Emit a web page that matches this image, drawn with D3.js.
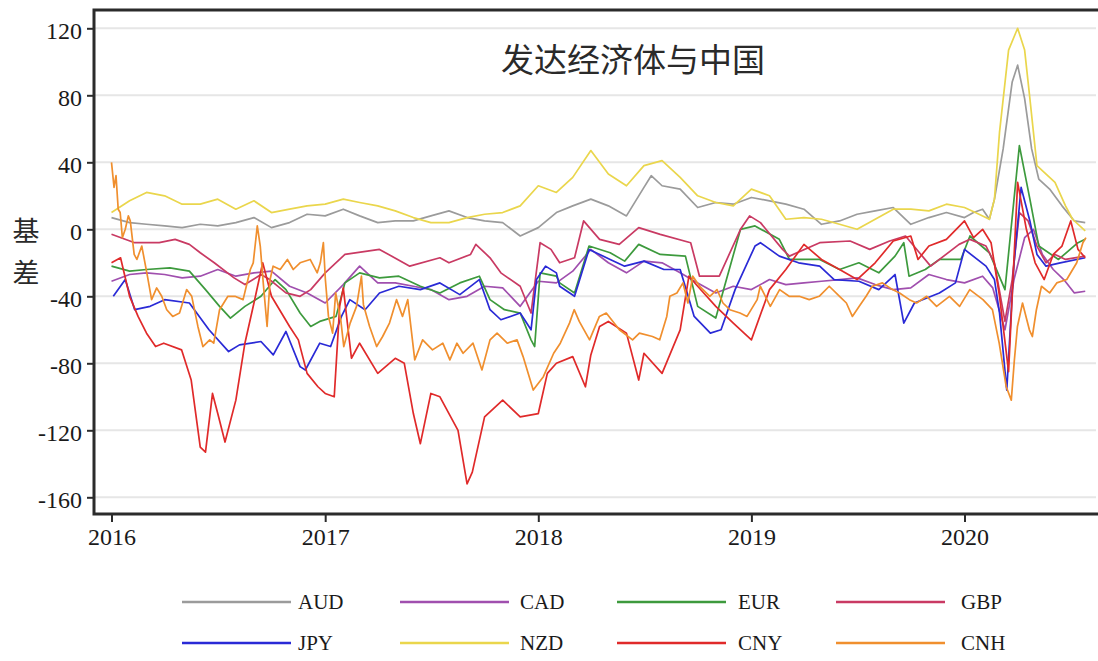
<!DOCTYPE html>
<html>
<head>
<meta charset="utf-8">
<script src="https://cdn.jsdelivr.net/npm/d3@7"></script>
<style>
  body { margin: 0; background: #fff; }
  svg { display: block; }
</style>
</head>
<body>
<svg></svg>
<script>
// points are [months since Jan 2016, basis]
const currencies = ['AUD', 'CAD', 'EUR', 'GBP', 'JPY', 'NZD', 'CNY', 'CNH'];
const colors = ['#9b9b9b', '#a04fae', '#3d9a3d', '#c93a63', '#2a2ad6', '#ead64c', '#e02a2a', '#f08f2e'];
const years = [2016, 2017, 2018, 2019, 2020];
const yTicks = [120, 80, 40, 0, -40, -80, -120, -160];

const aud = [[0,7],[1,4],[2,3],[3,2],[4,1],[5,3],[6,2],[7,4],[8,7],[9,1],[10,4],[11,9],[12,8],[13,12],[14,8],[15,4],[16,5],[17,5],[18,8],[19,11],[20,7],[21,5],[22,4],[23,-4],[24,1],[25,10],[26,14],[27,18],[28,14],[29,8],[30,25],[30.4,32],[31,26],[32,24],[33,13],[34,16],[35,15],[36,19],[37,17],[38,15],[39,12],[40,3],[41,5],[42,9],[43,11],[44,13],[45,3],[46,7],[47,10],[48,7],[48.5,10],[49,12],[49.4,6],[49.7,18],[50.2,48],[50.7,88],[51,98],[51.4,78],[51.8,48],[52.2,30],[52.8,24],[53.5,14],[54.2,5],[54.8,4]];
const cad = [[0,-31],[1,-27],[2,-26],[3,-27],[4,-29],[5,-28],[6,-24],[7,-28],[8,-26],[9,-25],[10,-34],[11,-38],[12,-44],[13,-33],[14,-22],[15,-32],[16,-32],[17,-34],[18,-36],[19,-42],[20,-40],[21,-34],[22,-35],[23,-46],[24,-31],[25,-32],[26,-25],[27,-12],[28,-20],[29,-26],[30,-19],[31,-20],[32,-26],[33,-32],[34,-38],[35,-34],[36,-36],[37,-30],[38,-33],[39,-32],[40,-31],[41,-30],[42,-29],[43,-33],[44,-36],[45,-35],[46,-27],[47,-30],[48,-32],[49,-28],[49.6,-35],[50.3,-60],[50.8,-30],[51.4,-5],[51.9,0],[52.4,-15],[53,-24],[53.6,-30],[54.2,-38],[54.8,-37]];
const eur = [[0,-22],[1,-25],[2,-24],[3.3,-23],[4.4,-25],[5.3,-36],[6.1,-46],[6.7,-53],[7.5,-46],[8.4,-40],[9.2,-30],[9.8,-36],[10.6,-50],[11.2,-58],[11.7,-55],[12.6,-52],[13.1,-32],[14,-26],[15.1,-29],[16.2,-28],[17.4,-34],[18.5,-38],[19.6,-32],[20.7,-28],[21.3,-42],[22.1,-48],[23,-50],[23.6,-66],[23.8,-70],[24.1,-26],[25,-28],[25.2,-32],[26.1,-38],[26.9,-10],[28.1,-14],[28.9,-19],[29.7,-9],[30.9,-15],[32.3,-16],[33,-46],[34,-53],[34.5,-34],[35.4,0],[36.2,2],[37.6,-6],[38.2,-18],[39.9,-18],[41,-24],[42.1,-20],[43.2,-26],[44.1,-16],[44.6,-8],[44.9,-28],[45.8,-24],[46.6,-18],[47.8,-18],[48.3,-4],[49.4,-14],[50.3,-36],[51.1,50],[51.7,18],[52.2,-10],[53.3,-18],[54.4,-8],[54.8,-6]];
const gbp = [[0,-3],[1.3,-8],[2.7,-8],[3.6,-6],[4.4,-9],[5,-14],[5.8,-20],[6.9,-29],[7.5,-33],[8.4,-27],[8.9,-30],[9.8,-38],[10.6,-40],[11.2,-36],[12,-26],[13.1,-15],[15.1,-12],[16.8,-22],[18.5,-17],[19,-20],[20.2,-15],[20.5,-9],[21.3,-17],[21.9,-26],[23,-34],[23.6,-50],[24.1,-8],[24.7,-12],[25.2,-20],[26.1,-17],[26.6,5],[27.5,-6],[28.6,-9],[29.7,1],[30.9,-3],[32.6,-8],[33.1,-28],[34.2,-28],[35.4,0],[35.9,8],[36.5,4],[37.8,-12],[38.2,-16],[39.9,-8],[41.6,-7],[42.7,-12],[43.8,-7],[44.7,-4],[46.1,-22],[47.7,-9],[48.3,-6],[49.2,-10],[49.7,-20],[50.3,-55],[50.7,-30],[51.1,10],[51.6,5],[52.1,-10],[52.6,-20],[53.1,-15],[53.7,-18],[54.8,-16]];
const jpy = [[0.1,-40],[0.76,-30],[1.3,-48],[2.2,-46],[3,-42],[4.4,-44],[5.5,-60],[6.6,-73],[7.2,-69],[8.4,-67],[9.1,-75],[9.8,-61],[10.6,-82],[10.9,-84],[11.7,-68],[12.3,-70],[12.9,-52],[13.4,-42],[14.3,-48],[15.1,-38],[16.2,-34],[17.4,-36],[18.5,-32],[19.6,-39],[20.7,-30],[21.3,-48],[21.9,-54],[23,-50],[23.6,-60],[23.9,-30],[24.4,-22],[25,-26],[25.2,-34],[26.1,-40],[26.9,-12],[28.1,-18],[28.9,-22],[30,-19],[31.1,-24],[32,-24],[32.8,-52],[33.7,-62],[34.3,-60],[35.1,-36],[36.2,-10],[36.5,-8],[37.6,-16],[38.7,-20],[39.9,-22],[40.7,-30],[42.1,-31],[43.2,-36],[44.1,-27],[44.6,-56],[45.2,-44],[46.6,-38],[47.5,-32],[48,-12],[49.2,-22],[49.7,-30],[50,-50],[50.4,-96],[50.8,-20],[51.2,25],[51.7,5],[52.1,-15],[52.6,-22],[53.4,-20],[54.8,-17]];
const nzd = [[0,10],[1,17],[2,22],[3,20],[4,15],[5,15],[6,18],[7,12],[8,17],[9,10],[10,12],[11,14],[12,15],[13,18],[14,16],[15,14],[16,11],[17,7],[18,4],[19,4],[20,7],[21,9],[22,10],[23,14],[24,26],[25,22],[26,31],[27,47],[28,33],[29,26],[30,38],[31,41],[32,31],[33,20],[34,16],[35,14],[36,24],[37,20],[38,6],[39,7],[40,6],[41,3],[42,0],[43,6],[44,12],[45,12],[46,11],[47,15],[48,13],[48.6,10],[49.4,6],[49.7,18],[50,58],[50.5,107],[51,120],[51.4,107],[51.7,78],[52.1,38],[52.5,34],[53.1,28],[53.7,14],[54.1,6],[54.8,-1]];
const cny = [[0,-20],[0.5,-17],[1,-40],[1.5,-52],[2,-62],[2.5,-70],[2.95,-68],[3.97,-72],[4.5,-90],[5,-130],[5.3,-133],[5.7,-98],[6,-110],[6.4,-127],[7,-102],[7.5,-68],[8,-44],[8.5,-20],[9,-40],[10,-58],[10.5,-66],[11,-86],[11.6,-94],[12,-98],[12.5,-100],[12.8,-46],[13,-35],[13.5,-77],[14,-68],[15,-86],[16,-77],[16.5,-80],[17,-110],[17.4,-128],[18,-98],[18.5,-100],[19,-110],[19.5,-120],[20,-152],[20.3,-145],[21,-112],[22,-102],[23,-112],[24,-110],[24.5,-86],[25,-80],[26,-76],[26.7,-94],[27,-75],[27.5,-58],[28,-55],[29,-62],[29.7,-90],[30,-74],[31,-86],[32,-60],[32.5,-28],[33,-34],[34,-46],[35,-56],[36,-66],[37,-36],[38,-24],[39,-9],[40,-18],[41,-24],[42,-30],[43,-20],[44,-7],[45,-4],[45.4,-18],[46,-10],[47,-6],[48,5],[48.5,-5],[49,0],[49.5,-8],[50,-40],[50.5,-85],[51,28],[51.5,0],[52,-20],[52.5,-30],[53,-15],[53.5,-10],[54,5],[54.4,-12],[54.8,-17]];
const cnh = [[0,40],[0.14,25],[0.25,32],[0.37,12],[0.48,10],[0.6,-5],[0.76,0],[0.93,8],[1.04,5],[1.27,-15],[1.43,-18],[1.72,-10],[2.05,-28],[2.28,-42],[2.56,-35],[2.84,-40],[3.12,-48],[3.46,-52],[3.85,-50],[4.25,-36],[4.53,-40],[4.87,-58],[5.15,-70],[5.54,-66],[5.77,-68],[6.1,-48],[6.56,-40],[6.95,-40],[7.4,-42],[7.8,-24],[7.96,-20],[8.19,2],[8.36,-10],[8.53,-32],[8.75,-58],[8.92,-30],[9.09,-22],[9.48,-24],[9.88,-18],[10.21,-24],[10.6,-20],[11.17,-18],[11.56,-26],[11.73,-20],[11.9,-8],[12.01,-30],[12.18,-52],[12.41,-62],[12.58,-38],[12.86,-54],[13.03,-70],[13.42,-56],[13.81,-46],[14.1,-28],[14.21,-45],[14.55,-58],[14.94,-70],[15.28,-64],[15.67,-56],[16.07,-42],[16.4,-52],[16.69,-42],[17.08,-78],[17.53,-66],[18.09,-72],[18.66,-68],[19.05,-78],[19.44,-68],[19.78,-74],[20.34,-68],[20.85,-84],[21.3,-66],[21.69,-62],[22.26,-68],[22.82,-66],[23.16,-76],[23.72,-96],[24.28,-88],[24.85,-74],[25.24,-68],[25.8,-56],[26.08,-48],[26.36,-55],[26.93,-66],[27.49,-52],[27.88,-50],[28.61,-60],[29.35,-66],[29.74,-62],[30.47,-64],[30.87,-66],[31.26,-52],[31.43,-40],[31.82,-38],[32.16,-32],[32.44,-44],[32.72,-28],[33.11,-34],[33.67,-40],[34.07,-36],[34.41,-44],[34.8,-48],[35.37,-50],[35.76,-52],[36.32,-42],[36.49,-34],[37.05,-46],[37.62,-36],[38.18,-40],[38.74,-40],[39.3,-42],[39.87,-40],[40.43,-34],[41,-40],[41.39,-44],[41.73,-52],[42.12,-46],[42.5,-40],[42.84,-34],[43.4,-32],[43.96,-36],[44.36,-38],[44.92,-42],[45.32,-44],[45.88,-40],[46.44,-46],[47.17,-40],[47.73,-46],[48.29,-36],[49.02,-42],[49.58,-48],[49.98,-68],[50.37,-94],[50.65,-102],[50.82,-78],[50.99,-58],[51.28,-44],[51.67,-60],[51.84,-64],[52.07,-48],[52.35,-34],[52.8,-38],[53.2,-32],[53.77,-30],[54.33,-20],[54.67,-8],[54.84,-5]];
const seriesValues = [aud, cad, eur, gbp, jpy, nzd, cny, cnh];

const width = 1098;
const height = 661;
const plot = { left: 94, right: 1096, top: 10, bottom: 514 };
const serif = '"Liberation Serif", "Times New Roman", serif';
const cjk = '"Noto Sans CJK SC", sans-serif';

function monthToDate(m) {
  const whole = Math.floor(m);
  const d0 = new Date(2016, whole, 1);
  const d1 = new Date(2016, whole + 1, 1);
  return new Date(+d0 + (m - whole) * (d1 - d0));
}

const svg = d3.select('svg')
  .attr('width', width)
  .attr('height', height);

const x = d3.scaleTime()
  .domain([new Date(2016, 0, 1), new Date(2020, 0, 1)])
  .range([111.5, 964.5]);

const y = d3.scaleLinear()
  .domain([-160, 120])
  .range([497.3, 28.3]);

// grid
svg.append('g')
  .selectAll('line')
  .data(yTicks)
  .enter()
  .append('line')
  .attr('x1', plot.left)
  .attr('x2', plot.right)
  .attr('y1', d => y(d))
  .attr('y2', d => y(d))
  .attr('stroke', '#e6e6e6')
  .attr('stroke-width', 2);

// series
const line = d3.line()
  .x(d => x(monthToDate(d[0])))
  .y(d => y(d[1]));

svg.append('g')
  .selectAll('path')
  .data(seriesValues)
  .enter()
  .append('path')
  .attr('d', line)
  .attr('fill', 'none')
  .attr('stroke', (d, i) => colors[i])
  .attr('stroke-width', 1.7)
  .attr('stroke-linejoin', 'round');

// frame: top, left, bottom
svg.append('path')
  .attr('d', `M${plot.right + 2},${plot.top}H${plot.left}V${plot.bottom}H${plot.right + 2}`)
  .attr('fill', 'none')
  .attr('stroke', '#2b2b2b')
  .attr('stroke-width', 3);

const yAxis = svg.append('g')
  .attr('transform', `translate(${plot.left},0)`)
  .call(d3.axisLeft(y)
    .tickValues(yTicks)
    .tickFormat(d => String(d))   // plain hyphen like the source
    .tickSize(7)
    .tickPadding(5));

const xAxis = svg.append('g')
  .attr('transform', `translate(0,${plot.bottom})`)
  .call(d3.axisBottom(x)
    .tickValues(years.map(yr => new Date(yr, 0, 1)))
    .tickFormat(d3.timeFormat('%Y'))
    .tickSize(8)
    .tickPadding(6));

[yAxis, xAxis].forEach(ax => {
  ax.select('.domain').remove();
  ax.selectAll('.tick line').attr('stroke', '#2b2b2b').attr('stroke-width', 2);
  ax.selectAll('.tick text')
    .attr('fill', '#1a1a1a')
    .style('font-family', serif)
    .style('font-size', '24px');
});
yAxis.selectAll('.tick text').attr('dy', '0.42em');

// title inside plot
svg.append('text')
  .attr('x', 633)
  .attr('y', 72)
  .attr('text-anchor', 'middle')
  .attr('fill', '#2a2a2a')
  .style('font-family', cjk)
  .style('font-size', '33px')
  .text('发达经济体与中国');

// y axis title, stacked characters
svg.append('g')
  .selectAll('text')
  .data(['基', '差'])
  .enter()
  .append('text')
  .attr('x', 26)
  .attr('y', (d, i) => 241 + i * 42)
  .attr('text-anchor', 'middle')
  .attr('fill', '#2a2a2a')
  .style('font-family', cjk)
  .style('font-size', '27px')
  .text(d => d);

// legend, 4 columns x 2 rows
const legendCols = [182, 400, 617, 836];
const legendRows = [602, 643];
const legend = svg.append('g')
  .selectAll('g')
  .data(currencies)
  .enter()
  .append('g')
  .attr('transform', (d, i) => `translate(${legendCols[i % 4]},${legendRows[Math.floor(i / 4)]})`);

legend.append('line')
  .attr('x1', 0)
  .attr('x2', 109)
  .attr('stroke', (d, i) => colors[i])
  .attr('stroke-width', 2.6);

legend.append('text')
  .attr('x', (d, i) => [116, 120, 121, 125][i % 4])
  .attr('dy', '0.35em')
  .attr('fill', '#1a1a1a')
  .style('font-family', serif)
  .style('font-size', '21px')
  .text(d => d);
</script>
</body>
</html>
